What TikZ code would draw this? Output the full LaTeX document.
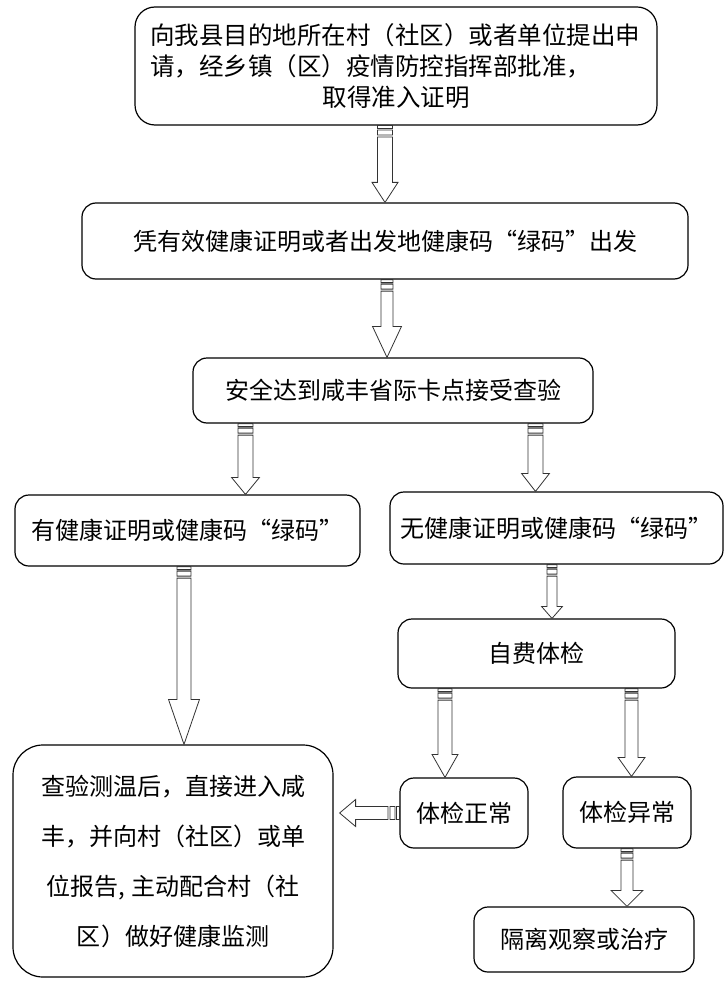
\documentclass[tikz,border=0pt]{standalone}
\usepackage{fontspec}
\setmainfont{Noto Sans CJK SC}
\usetikzlibrary{calc}

\tikzset{
  flowbox/.style={draw, line width=1.2pt, rounded corners=14pt, align=center,
    inner sep=0pt, font=\fontsize{24}{30}\selectfont},
  hollow/.style={draw=black!80, line width=0.8pt, fill=white},
}

% striped hollow arrow going down: x, from, to, half shaft, half head, head length
\newcommand{\vstriped}[6]{%
  \draw[hollow] let \p1=(#2), \p2=(#3) in
    (#1pt-#4pt,\y1) rectangle (#1pt+#4pt,\y1-3pt)
    (#1pt-#4pt,\y1-4.5pt) rectangle (#1pt+#4pt,\y1-9.5pt)
    (#1pt-#4pt,\y1-11.5pt) -- (#1pt-#4pt,\y2+#6pt) -- (#1pt-#5pt,\y2+#6pt)
    -- (#1pt,\y2) -- (#1pt+#5pt,\y2+#6pt) -- (#1pt+#4pt,\y2+#6pt)
    -- (#1pt+#4pt,\y1-11.5pt) -- cycle;}
% striped hollow arrow going left: from, to, half shaft, half head, head length
\newcommand{\hstriped}[5]{%
  \draw[hollow] let \p1=(#1), \p2=(#2) in
    (\x1,\y1-#3pt) rectangle (\x1-3pt,\y1+#3pt)
    (\x1-4.5pt,\y1-#3pt) rectangle (\x1-9.5pt,\y1+#3pt)
    (\x1-11.5pt,\y1-#3pt) -- (\x2+#5pt,\y1-#3pt) -- (\x2+#5pt,\y1-#4pt)
    -- (\x2,\y1) -- (\x2+#5pt,\y1+#4pt) -- (\x2+#5pt,\y1+#3pt)
    -- (\x1-11.5pt,\y1+#3pt) -- cycle;}

\begin{document}
\begin{tikzpicture}[x=1pt,y=-1pt]
\useasboundingbox (0,0) rectangle (727,984);

\node[flowbox, rounded corners=20pt, minimum width=522, minimum height=118,
  text width=492pt, align=left, font=\fontsize{24.5}{31}\selectfont] (top) at (396,66)
  {向我县目的地所在村（社区）或者单位提出申\\请，经乡镇（区）疫情防控指挥部批准，\\\makebox[\linewidth]{取得准入证明}};
\node[flowbox, minimum width=606, minimum height=76] (valid) at (385,241)
  {凭有效健康证明或者出发地健康码“绿码”出发};
\node[flowbox, minimum width=400, minimum height=65] (cross) at (393,390.5)
  {安全达到咸丰省际卡点接受查验};
\node[flowbox, minimum width=345, minimum height=71] (has) at (187.5,530.5)
  {有健康证明或健康码“绿码”};
\node[flowbox, minimum width=333, minimum height=72] (hasnot) at (556.5,528)
  {无健康证明或健康码“绿码”};
\node[flowbox, minimum width=277, minimum height=69] (selfexam) at (536.5,653.5)
  {自费体检};
\node[flowbox, rounded corners=30pt, minimum width=320, minimum height=232,
  font=\fontsize{24}{50}\selectfont] (enter) at (173,861)
  {查验测温后，直接进入咸\\丰，并向村（社区）或单\\位报告, 主动配合村（社\\区）做好健康监测};
\node[flowbox, minimum width=128, minimum height=70] (normal) at (464,813)
  {体检正常};
\node[flowbox, minimum width=128, minimum height=71] (abnormal) at (627,812.5)
  {体检异常};
\node[flowbox, minimum width=220, minimum height=65] (isolate) at (584,939.5)
  {隔离观察或治疗};

\vstriped{385}{top.south}{valid.north}{7.5}{13}{20}
\vstriped{387}{valid.south}{cross.north}{6}{14.5}{31}
\vstriped{245.5}{cross.south}{has.north}{7.5}{14}{17}
\vstriped{535.5}{cross.south}{hasnot.north}{7.5}{14}{18}
\vstriped{184}{has.south}{enter.north}{7}{15.5}{45}
\vstriped{552}{hasnot.south}{selfexam.north}{5}{10.5}{12}
\vstriped{445}{selfexam.south}{normal.north}{7}{13}{23}
\vstriped{631.5}{selfexam.south}{abnormal.north}{6.5}{13.5}{19}
\vstriped{627}{abnormal.south}{isolate.north}{6}{16}{16}
\hstriped{normal.west}{[xshift=6pt]enter.east}{6.5}{13.5}{16}
\end{tikzpicture}
\end{document}
